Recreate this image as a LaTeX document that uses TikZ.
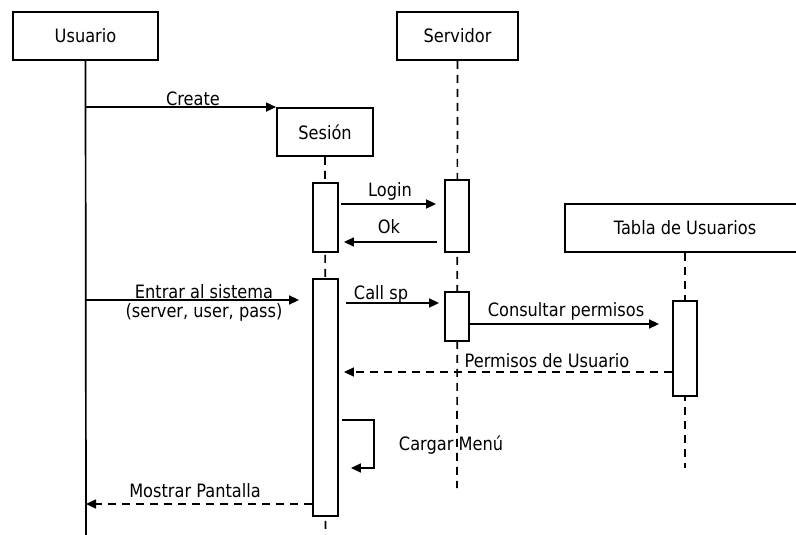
\documentclass[tikz,border=0pt]{standalone}
\usepackage{fontspec}
\setmainfont{DejaVu Sans}[FakeStretch=0.88]
\usetikzlibrary{arrows.meta,calc}
\begin{document}
\begin{tikzpicture}[x=1pt,y=-1pt,
  every node/.style={font=\fontsize{18.4}{21}\selectfont},
  obj/.style={draw,line width=1.9pt,fill=white,inner sep=0pt,minimum height=48pt},
  act/.style={draw,line width=1.8pt,fill=white,inner sep=0pt,minimum width=24pt},
  life/.style={line width=1.7pt,dash pattern=on 8pt off 6pt},
  msg/.style={line width=1.6pt,-{Triangle[length=10pt,width=9pt]}},
  ret/.style={msg,dash pattern=on 8pt off 6pt},
  lbl/.style={inner sep=0pt,anchor=base}]
\useasboundingbox (0,0) rectangle (796,535);
\clip (0,0) rectangle (796,535);
% objects
\node[obj,minimum width=145pt] (u) at (85.5,36) {Usuario};
\node[obj,minimum width=121pt] (v) at (457.5,36) {Servidor};
\node[obj,minimum width=96pt] (s) at (325,132) {Sesión};
\node[obj,minimum width=240pt] (t) at (685,228) {Tabla de Usuarios};
% lifeline ends
\coordinate (uend) at (86,535);
\coordinate (send) at (325.5,535);
\coordinate (vend) at (457,488);
\coordinate (tend) at (685,468);
% lifelines drawn first
\draw[line width=1.7pt] (u.south) -- (uend);
\draw[life] (s.south) -- (send);
\draw[life] (v.south) -- (vend);
\draw[life] (t.south) -- (tend);
% activations
\node[act,minimum width=25pt,minimum height=69pt] (sa1) at (325.5,217.5) {};
\node[act,minimum width=25pt,minimum height=237pt] (sa2) at (325.5,397.5) {};
\node[act,minimum height=72pt] (va1) at (457,216) {};
\node[act,minimum height=49pt] (va2) at (457,316.5) {};
\node[act,minimum height=95pt] (ta) at (685,348.5) {};
% messages
\draw[msg] (u.south |- s.north west) -- (s.north west);
\draw[msg,shorten <=2pt,shorten >=8pt] (sa1.east |- 0,204) -- (va1.west |- 0,204);
\draw[msg,shorten <=7pt,shorten >=5pt] (va1.west |- 0,242) -- (sa1.east |- 0,242);
\draw[msg,shorten >=13pt] (uend |- 0,300) -- (sa2.west |- 0,300);
\draw[msg,shorten <=7pt,shorten >=5pt] (sa2.east |- 0,303) -- (va2.west |- 0,303);
\draw[msg,shorten >=13pt] (va2.east |- 0,324) -- (ta.west |- 0,324);
\draw[ret,shorten >=5pt] (ta.west |- 0,372) -- (sa2.east |- 0,372);
\draw[msg] ($(sa2.east |- 0,420)+(3,0)$) -- ($(sa2.east |- 0,420)+(35,0)$)
  -- ($(sa2.east |- 0,468)+(35,0)$) -- ($(sa2.east |- 0,468)+(12,0)$);
\draw[ret] (sa2.west |- 0,504) -- (uend |- 0,504);
% labels
\node[lbl] (l1) at (193,106) {Create};
\node[lbl] (l2) at (390,196) {Login};
\node[lbl] (l3) at (389,233) {Ok};
\node[lbl] (l4) at (204,298) {Entrar al sistema};
\node[lbl] (l5) at (204,317) {(server, user, pass)};
\node[lbl] (l6) at (381,299) {Call sp};
\node[lbl] (l7) at (566,316) {Consultar permisos};
\node[lbl] (l8) at (547,367) {Permisos de Usuario};
\node[lbl] (l9) at (451,450) {Cargar Menú};
\node[lbl] (l10) at (195,497) {Mostrar Pantalla};
\end{tikzpicture}
\end{document}
